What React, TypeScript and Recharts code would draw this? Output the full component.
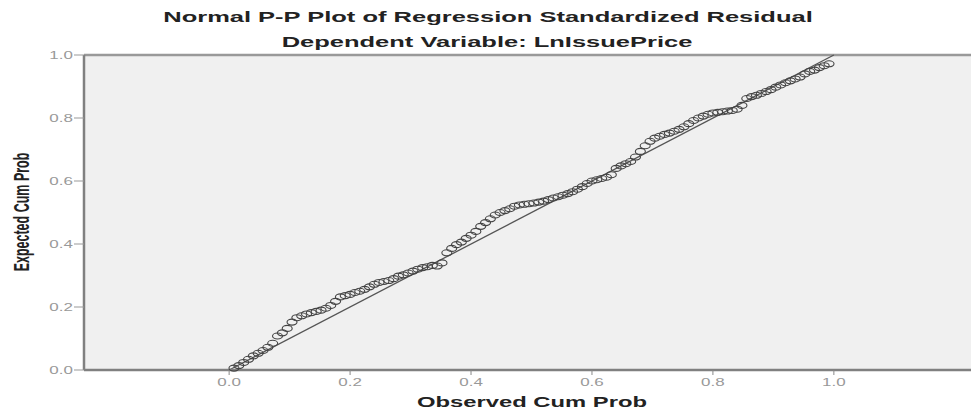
import { CartesianGrid, ReferenceLine, Scatter, ScatterChart, XAxis, YAxis } from "recharts";

const title = "Normal P-P Plot of Regression Standardized Residual";
const subtitle = "Dependent Variable: LnIssuePrice";
const xTitle = "Observed Cum Prob";
const yTitle = "Expected Cum Prob";

const xTicks = [0, 0.2, 0.4, 0.6, 0.8, 1.0];
const yTicks = [0, 0.2, 0.4, 0.6, 0.8, 1.0];
const diagonal = [0, 1];

// observed vs expected cumulative probability
const observed = [
  0.008, 0.016, 0.024, 0.032, 0.040, 0.048, 0.056, 0.064, 0.072, 0.080,
  0.088, 0.096, 0.104, 0.112, 0.120, 0.128, 0.136, 0.144, 0.152, 0.160,
  0.168, 0.176, 0.184, 0.192, 0.200, 0.208, 0.216, 0.224, 0.232, 0.240,
  0.248, 0.256, 0.264, 0.272, 0.280, 0.288, 0.296, 0.304, 0.312, 0.320,
  0.328, 0.336, 0.344, 0.352, 0.360, 0.368, 0.376, 0.384, 0.392, 0.400,
  0.408, 0.416, 0.424, 0.432, 0.440, 0.448, 0.456, 0.464, 0.472, 0.480,
  0.488, 0.496, 0.504, 0.512, 0.520, 0.528, 0.536, 0.544, 0.552, 0.560,
  0.568, 0.576, 0.584, 0.592, 0.600, 0.608, 0.616, 0.624, 0.632, 0.640,
  0.648, 0.656, 0.664, 0.672, 0.680, 0.688, 0.696, 0.704, 0.712, 0.720,
  0.728, 0.736, 0.744, 0.752, 0.760, 0.768, 0.776, 0.784, 0.792, 0.800,
  0.808, 0.816, 0.824, 0.832, 0.840, 0.848, 0.856, 0.864, 0.872, 0.880,
  0.888, 0.896, 0.904, 0.912, 0.920, 0.928, 0.936, 0.944, 0.952, 0.960,
  0.968, 0.976, 0.984, 0.992,
];
const expected = [
  0.006, 0.014, 0.024, 0.034, 0.045, 0.053, 0.062, 0.072, 0.085, 0.108,
  0.118, 0.132, 0.152, 0.166, 0.172, 0.178, 0.182, 0.186, 0.190, 0.196,
  0.205, 0.218, 0.232, 0.236, 0.240, 0.246, 0.250, 0.256, 0.264, 0.272,
  0.278, 0.281, 0.284, 0.290, 0.298, 0.302, 0.308, 0.314, 0.320, 0.325,
  0.328, 0.332, 0.330, 0.340, 0.372, 0.386, 0.398, 0.406, 0.418, 0.428,
  0.440, 0.456, 0.468, 0.480, 0.492, 0.500, 0.506, 0.512, 0.520, 0.524,
  0.526, 0.528, 0.530, 0.533, 0.536, 0.541, 0.546, 0.550, 0.555, 0.560,
  0.566, 0.574, 0.582, 0.592, 0.600, 0.604, 0.608, 0.612, 0.620, 0.640,
  0.648, 0.655, 0.662, 0.676, 0.694, 0.712, 0.726, 0.736, 0.742, 0.748,
  0.752, 0.758, 0.764, 0.772, 0.782, 0.792, 0.800, 0.806, 0.812, 0.816,
  0.818, 0.820, 0.822, 0.824, 0.828, 0.840, 0.862, 0.868, 0.872, 0.878,
  0.884, 0.890, 0.898, 0.905, 0.912, 0.918, 0.924, 0.930, 0.940, 0.948,
  0.952, 0.960, 0.966, 0.972,
];

const points = observed.map((x, i) => ({ x, y: expected[i] }));

// the source image is stretched sideways, so text and markers are too
const STRETCH = 1.7;
const FONT = "'Liberation Sans', Arial, sans-serif";

function XTick({ x, y, payload }: any) {
  return (
    <text
      transform={`translate(${x},${y + 9}) scale(${STRETCH},1)`}
      textAnchor="middle"
      fontSize={10}
      fontFamily={FONT}
      fill="#999"
    >
      {Number(payload.value).toFixed(1)}
    </text>
  );
}

function YTick({ x, y, payload }: any) {
  return (
    <text
      transform={`translate(${x},${y + 3.5}) scale(${STRETCH},1)`}
      textAnchor="end"
      fontSize={10}
      fontFamily={FONT}
      fill="#999"
    >
      {Number(payload.value).toFixed(1)}
    </text>
  );
}

function Dot({ cx, cy }: any) {
  if (cx == null || cy == null) return <g />;
  return <ellipse cx={cx} cy={cy} rx={5} ry={3} fill="none" stroke="#444" strokeWidth={1.1} />;
}

export default function App() {
  return (
    <div style={{ position: "absolute", left: 0, top: 0, width: 971, height: 409, overflow: "hidden", background: "#fff" }}>
      <ScatterChart width={990} height={409} margin={{ top: 55, right: 11, bottom: 0, left: 0 }}>
        <CartesianGrid fill="#f0f0f0" horizontal={false} vertical={false} />
        <XAxis
          type="number"
          dataKey="x"
          domain={[-0.24, 1.24]}
          ticks={xTicks}
          height={39}
          tickSize={5}
          tickMargin={2}
          axisLine={{ stroke: "#808080", strokeWidth: 2.5 }}
          tickLine={{ stroke: "#888" }}
          tick={<XTick />}
        />
        <YAxis
          type="number"
          dataKey="y"
          domain={[0, 1]}
          ticks={yTicks}
          width={84}
          tickSize={10}
          tickMargin={1}
          axisLine={{ stroke: "#808080", strokeWidth: 2.5 }}
          tickLine={{ stroke: "#999" }}
          tick={<YTick />}
        />
        <ReferenceLine y={1} stroke="#999" strokeWidth={2.5} />
        <ReferenceLine
          segment={[
            { x: diagonal[0], y: diagonal[0] },
            { x: diagonal[1], y: diagonal[1] },
          ]}
          stroke="#555"
          strokeWidth={1.3}
        />
        <Scatter data={points} shape={<Dot />} isAnimationActive={false} />
      </ScatterChart>
      <svg width={971} height={409} style={{ position: "absolute", left: 0, top: 0, pointerEvents: "none" }}>
        <g fontFamily={FONT} fontWeight="bold" fill="#222">
          <text transform={`translate(488,22) scale(${STRETCH},1)`} textAnchor="middle" fontSize={15}>
            {title}
          </text>
          <text transform={`translate(487,47) scale(${STRETCH},1)`} textAnchor="middle" fontSize={15}>
            {subtitle}
          </text>
          <text transform={`translate(532,407) scale(${STRETCH},1)`} textAnchor="middle" fontSize={14}>
            {xTitle}
          </text>
          <text transform={`translate(29,212) scale(${STRETCH},1) rotate(-90)`} textAnchor="middle" fontSize={12.5}>
            {yTitle}
          </text>
        </g>
      </svg>
    </div>
  );
}
